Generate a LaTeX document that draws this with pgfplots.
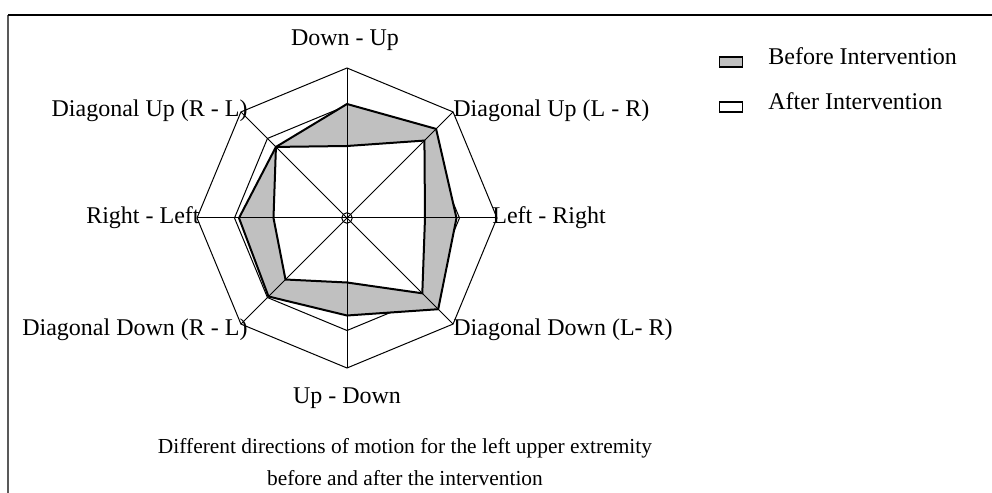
\documentclass[border=0pt]{standalone}
\usepackage{pgfplots}
\pgfplotsset{compat=1.18}
\usepackage{fontspec}
\setmainfont{Liberation Serif}
\definecolor{beforegray}{RGB}{192,192,192}

\begin{document}
\fontsize{12}{14}\selectfont
\begin{tikzpicture}[x=0.5pt,y=0.5pt]
\useasboundingbox (0,0) rectangle (992,493);
\draw[line width=0.9pt, black!65] (8,-10) -- (8,478);
\draw[line width=0.9pt] (8,478) -- (1002,478);
\begin{axis}[
    at={(173.5pt,137.5pt)}, anchor=center,
    scale only axis, width=150pt, height=150pt,
    xmin=-1, xmax=1, ymin=-1, ymax=1,
    hide axis, clip=false,
    grid ring/.style={data cs=polar, forget plot, black, line width=0.5pt},
    legend style={at={(1.737,1.074)}, anchor=north west, draw=none, fill=none,
      inner sep=0pt, row sep=10.5pt,
      nodes={inner sep=0pt, anchor=base west, text height=9pt, text depth=3pt, font=\fontsize{12}{14}\selectfont}},
    legend image code/.code={
      \draw[#1, line width=0.9pt] (0.5pt,-1.5pt) rectangle (12pt,3.5pt);
      \path (24.5pt,0pt);
    },
  ]
  % octagonal grid rings
  \addplot[grid ring] coordinates {(0,1) (45,1) (90,1) (135,1) (180,1) (225,1) (270,1) (315,1)} -- cycle;
  \addplot[grid ring] coordinates {(0,0.75) (45,0.75) (90,0.75) (135,0.75) (180,0.75) (225,0.75) (270,0.75) (315,0.75)} -- cycle;
  \addplot[grid ring] coordinates {(0,0.5) (45,0.5) (90,0.5) (135,0.5) (180,0.5) (225,0.5) (270,0.5) (315,0.5)} -- cycle;
  \addplot[grid ring] coordinates {(0,0.25) (45,0.25) (90,0.25) (135,0.25) (180,0.25) (225,0.25) (270,0.25) (315,0.25)} -- cycle;
  % before intervention
  \addplot[data cs=polar, draw=black, line width=1pt, fill=beforegray, line join=miter]
    coordinates {(90,0.76) (45,0.84) (0,0.73) (315,0.86) (270,0.65) (225,0.74) (180,0.72) (135,0.67)} -- cycle;
  \addlegendentry{Before Intervention}
  % after intervention
  \addplot[data cs=polar, draw=black, line width=1pt, fill=white, line join=miter]
    coordinates {(90,0.48) (45,0.73) (0,0.52) (315,0.71) (270,0.43) (225,0.58) (180,0.49) (135,0.67)} -- cycle;
  \addlegendentry{After Intervention}
  % spokes
  \addplot[grid ring] coordinates {(90,1) (270,1)};
  \addplot[grid ring] coordinates {(0,1) (180,1)};
  \addplot[grid ring] coordinates {(45,1) (225,1)};
  \addplot[grid ring] coordinates {(135,1) (315,1)};
  \addplot[grid ring] coordinates {(0,0.035) (45,0.035) (90,0.035) (135,0.035) (180,0.035) (225,0.035) (270,0.035) (315,0.035)} -- cycle;
\end{axis}
\begin{scope}[every node/.style={inner sep=0pt}]
  \node at (345,453) {Down - Up};
  \node[anchor=west] at (453,382) {Diagonal Up (L - R)};
  \node[anchor=west] at (492,275) {Left - Right};
  \node[anchor=west] at (453,163) {Diagonal Down (L- R)};
  \node at (347,95) {Up - Down};
  \node[anchor=east] at (248,163) {Diagonal Down (R - L)};
  \node[anchor=east] at (200,275) {Right - Left};
  \node[anchor=east] at (248,382) {Diagonal Up (R - L)};
  \node[align=center, font=\fontsize{10.7}{16}\selectfont] at (405,31)
    {Different directions of motion for the left upper extremity\\before and after the intervention};
\end{scope}
\end{tikzpicture}
\end{document}
